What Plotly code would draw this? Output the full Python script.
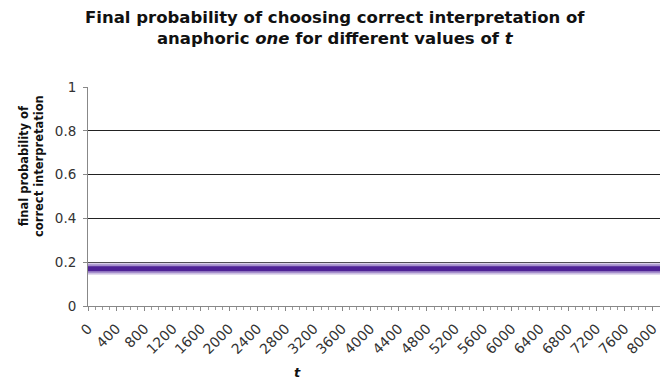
import plotly.graph_objects as go

# data
t_values = [0, 400, 800, 1200, 1600, 2000, 2400, 2800, 3200, 3600, 4000,
            4400, 4800, 5200, 5600, 6000, 6400, 6800, 7200, 7600, 8000, 8100]
final_prob = [0.17, 0.17, 0.17, 0.17, 0.17, 0.17, 0.17, 0.17, 0.17, 0.17, 0.17,
              0.17, 0.17, 0.17, 0.17, 0.17, 0.17, 0.17, 0.17, 0.17, 0.17, 0.17]
x_tick_labels = ["0", "400", "800", "1200", "1600", "2000", "2400", "2800", "3200",
                 "3600", "4000", "4400", "4800", "5200", "5600", "6000", "6400",
                 "6800", "7200", "7600", "8000"]
x_tick_vals = [int(v) for v in x_tick_labels]
y_tick_vals = [0, 0.2, 0.4, 0.6, 0.8, 1]
y_tick_labels = ["0", "0.2", "0.4", "0.6", "0.8", "1"]

FONT = "DejaVu Sans"
W, H = 660, 381
ML, MR, MT, MB = 88, 0, 87, 75
PW, PH = W - ML - MR, H - MT - MB


def px(x):
    return (x - ML) / PW


def py(y):
    return (H - MB - y) / PH


fig = go.Figure()
for width, color in [(12, "#d9cfe9"), (9, "#a58fcc"), (5, "#4f2296")]:
    fig.add_trace(go.Scatter(x=t_values, y=final_prob, mode="lines",
                             line=dict(color=color, width=width),
                             showlegend=False, hoverinfo="skip"))

fig.update_layout(
    width=W, height=H,
    margin=dict(l=ML, r=MR, t=MT, b=MB),
    paper_bgcolor="white", plot_bgcolor="white",
    font=dict(family=FONT, size=11, color="#222"),
    xaxis=dict(range=[0, 8100], tickmode="array", tickvals=x_tick_vals,
               ticktext=x_tick_labels, tickangle=-45, ticks="outside",
               ticklen=4, tickcolor="#888", showgrid=False, zeroline=False,
               showline=True, linecolor="#888", linewidth=1,
               ticklabelstandoff=4, ticklabeloverflow="allow",
               tickfont=dict(family=FONT, size=14, color="#333")),
    yaxis=dict(range=[0, 1], tickmode="array", tickvals=y_tick_vals,
               ticktext=y_tick_labels, ticks="outside", ticklen=4,
               tickcolor="#888", showgrid=True, gridcolor="#222", gridwidth=1,
               zeroline=False, showline=True, linecolor="#888", linewidth=1,
               ticklabelstandoff=4,
               tickfont=dict(family=FONT, size=13.5, color="#333")),
    annotations=[
        dict(text="<b>Final probability of choosing correct interpretation of<br>"
                  "anaphoric <i>one</i> for different values of <i>t</i></b>",
             x=px(335), y=py(28), xref="paper", yref="paper",
             xanchor="center", yanchor="middle", showarrow=False, align="center",
             font=dict(family=FONT, size=16.5, color="#111")),
        dict(text="<b>final probability of<br>correct interpretation</b>",
             x=px(31), y=py(166), xref="paper", yref="paper", textangle=-90,
             xanchor="center", yanchor="middle", showarrow=False, align="center",
             font=dict(family=FONT, size=11.5, color="#111")),
        dict(text="<b><i>t</i></b>", x=px(297), y=py(372), xref="paper", yref="paper",
             xanchor="center", yanchor="middle", showarrow=False,
             font=dict(family=FONT, size=13, color="#111")),
    ],
)
fig.update_xaxes(minor=dict(dtick=100, tick0=0, ticks="outside", ticklen=3,
                            tickcolor="#999", showgrid=False))

fig.write_html("out.html")
